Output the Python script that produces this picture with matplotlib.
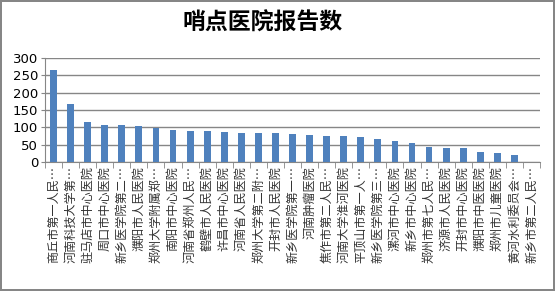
import matplotlib
matplotlib.use('Agg')
import matplotlib.pyplot as plt
import numpy as np

plt.rcParams['font.family'] = ['Noto Sans CJK SC', 'DejaVu Sans']

# hospital names and report counts
hospitals = ['商丘市第一人民…', '河南科技大学第…', '驻马店市中心医院', '周口市中心医院',
             '新乡医学院第二…', '濮阳市人民医院', '郑州大学附属郑…', '南阳市中心医院',
             '河南省郑州人民…', '鹤壁市人民医院', '许昌市中心医院', '河南省人民医院',
             '郑州大学第二附…', '开封市人民医院', '新乡医学院第一…', '河南肿瘤医院',
             '焦作市第二人民…', '河南大学淮河医院', '平顶山市第一人…', '新乡医学院第三…',
             '漯河市中心医院', '新乡市中心医院', '郑州市第七人民…', '济源市人民医院',
             '开封市中心医院', '濮阳市中医医院', '郑州市儿童医院', '黄河水利委员会…',
             '新乡市第二人民…']
reports = [265, 166, 115, 106, 106, 103, 99, 92, 89, 89, 86, 83, 83, 83, 80, 77,
           74, 74, 71, 66, 60, 54, 42, 39, 39, 28, 25, 19, 0]
yticks = [0, 50, 100, 150, 200, 250, 300]
title = '哨点医院报告数'

fig = plt.figure(figsize=(5.55, 2.91), dpi=100)
fig.patch.set_edgecolor('#868686')
fig.patch.set_linewidth(1.5)
ax = fig.add_axes([45 / 555, 1 - 162 / 291, 495 / 555, 104 / 291])

x = np.arange(len(hospitals))
ax.bar(x, reports, width=0.4, color='#4F81BD', zorder=3)

ax.set_xlim(-0.5, len(hospitals) - 0.5)
ax.set_ylim(0, 300)
ax.set_yticks(yticks)
ax.yaxis.grid(True, color='#868686', linewidth=1, zorder=0)
ax.tick_params(axis='y', labelsize=9.5, length=3, color='#868686', pad=2)
for lab in ax.get_yticklabels():
    lab.set_family('DejaVu Sans')

ax.set_xticks(x)
ax.set_xticklabels(hospitals, rotation=90, fontsize=8.7, color='#333333')
ax.tick_params(axis='x', which='major', length=0, pad=3)
ax.set_xticks(np.arange(len(hospitals) + 1) - 0.5, minor=True)
ax.tick_params(axis='x', which='minor', length=4, color='#868686')

for s in ['top', 'right']:
    ax.spines[s].set_visible(False)
for s in ['left', 'bottom']:
    ax.spines[s].set_color('#868686')

fig.text(263 / 555, 1 - 23 / 291, title, ha='center', va='center',
         fontsize=16.5, fontweight='bold')

fig.savefig('out.png', dpi=100, edgecolor=fig.get_edgecolor())
